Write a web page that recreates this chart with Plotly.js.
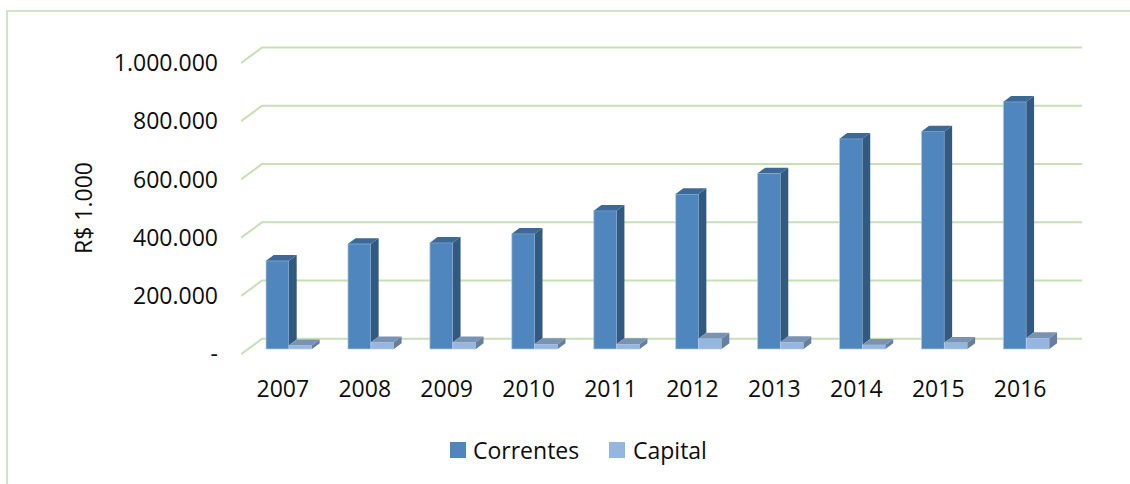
<!DOCTYPE html>
<html>
<head>
<meta charset="utf-8">
<script src="https://cdn.plot.ly/plotly-3.0.1.min.js"></script>
<style>
  html, body { margin: 0; padding: 0; background: #ffffff; }
  #chart { width: 1130px; height: 484px; }
</style>
</head>
<body>
<div id="chart"></div>
<script>
// ---- Data (R$ 1.000) ----
const years = ['2007', '2008', '2009', '2010', '2011', '2012', '2013', '2014', '2015', '2016'];
const correntes = [303000, 361000, 365000, 396000, 475000, 532000, 603000, 722000, 747000, 849000];
const capital = [13000, 23000, 23000, 17000, 17000, 36000, 24000, 15000, 22000, 38000];
const yTickVals = [0, 200000, 400000, 600000, 800000, 1000000];
const yTickText = ['-', '200.000', '400.000', '600.000', '800.000', '1.000.000'];
const seriesNames = ['Correntes', 'Capital'];

// ---- Style / geometry (pixel based, converted to axis units) ----
const W = 1130, H = 484;
const M = { l: 241, r: 48, t: 20, b: 114 };
const plotW = W - M.l - M.r;          // 841
const plotH = H - M.t - M.b;          // 350
const pxPerX = 81.93;                 // px per category
const pxPerY = 291.3 / 1e6;           // px per value unit
const xRange = [-(289 - M.l) / pxPerX, (W - M.r - 289) / pxPerX];
const yFrontZeroPx = 354.3;
const yR0 = -((M.t + plotH) - yFrontZeroPx) / pxPerY;
const yRange = [yR0, yR0 + plotH / pxPerY];

const barW = 23 / pxPerX;
const base = 5.3 / pxPerY;            // bars stand slightly behind the front edge
const ddx = 7.7 / pxPerX, ddy = 5.7 / pxPerY;     // bar depth
const gdx = 21 / pxPerX, gdy = 15.5 / pxPerY;     // floor/wall depth
const tickShift = -6.2 / pxPerX;

const colors = {
  cFront: '#4f86be', cSide: '#325a80', cTop: '#3c6995',
  kFront: '#95b6de', kSide: '#667f9e', kTop: '#7a93b3',
  grid: '#c6e0b4', border: '#c3ddb0', edge: 'rgba(185,205,230,0.9)'
};
const legendColors = [colors.cFront, colors.kFront];

const idx = years.map((_, i) => i);
const px2paperX = px => (px - M.l) / plotW;
const px2paperY = py => (M.t + plotH - py) / plotH;

// ---- Polygons for the 3D faces ----
function poly(list) {
  const xs = [], ys = [];
  list.forEach(pts => { pts.forEach(p => { xs.push(p[0]); ys.push(p[1]); }); xs.push(pts[0][0]); ys.push(pts[0][1]); xs.push(null); ys.push(null); });
  return { xs, ys };
}
const cSide = poly(idx.map(i => [[i, base + capital[i]], [i + ddx, base + capital[i] + ddy], [i + ddx, base + correntes[i] + ddy], [i, base + correntes[i]]]));
const cTop = poly(idx.map(i => [[i - barW, base + correntes[i]], [i - barW + ddx, base + correntes[i] + ddy], [i + ddx, base + correntes[i] + ddy], [i, base + correntes[i]]]));
const kSide = poly(idx.map(i => [[i + barW, base], [i + barW + ddx, base + ddy], [i + barW + ddx, base + capital[i] + ddy], [i + barW, base + capital[i]]]));
const kTop = poly(idx.map(i => [[i, base + capital[i]], [i + ddx, base + capital[i] + ddy], [i + barW + ddx, base + capital[i] + ddy], [i + barW, base + capital[i]]]));

function face(p, color) {
  return { type: 'scatter', mode: 'lines', x: p.xs, y: p.ys, fill: 'toself', fillcolor: color,
           line: { width: 0, color: color }, hoverinfo: 'skip', showlegend: false };
}

const traces = [
  { type: 'bar', name: seriesNames[0], x: idx, y: correntes, base: base, offset: -barW, width: barW,
    marker: { color: colors.cFront, line: { color: colors.edge, width: 0.8 } }, hoverinfo: 'y+name', showlegend: false },
  { type: 'bar', name: seriesNames[1], x: idx, y: capital, base: base, offset: 0, width: barW,
    marker: { color: colors.kFront, line: { color: colors.edge, width: 0.8 } }, hoverinfo: 'y+name', showlegend: false },
  face(cSide, colors.cSide),
  face(cTop, colors.cTop),
  face(kSide, colors.kSide),
  face(kTop, colors.kTop)
];

// ---- Gridlines (front diagonal + back wall) as shapes below the bars ----
const shapes = yTickVals.map(v => ({
  type: 'path', xref: 'x', yref: 'y', layer: 'below',
  path: `M ${xRange[0]},${v} L ${xRange[0] + gdx},${v + gdy} L ${xRange[1]},${v + gdy}`,
  line: { color: colors.grid, width: 2 }
}));
// chart border
shapes.push({
  type: 'rect', xref: 'paper', yref: 'paper', layer: 'below',
  x0: px2paperX(7), x1: px2paperX(W + 20),
  y0: px2paperY(11), y1: px2paperY(H + 20),
  line: { color: colors.border, width: 1.5 }, fillcolor: 'rgba(0,0,0,0)'
});

// ---- Legend (drawn as squares + labels to match the original spacing) ----
const legendSquareX = [450, 609];
const legendTextX = [473, 633];
const legendCY = 450;
const annotations = [{
  text: 'R$ 1.000', xref: 'paper', yref: 'paper', textangle: -90,
  x: px2paperX(83), y: px2paperY(208),
  xanchor: 'center', yanchor: 'middle', showarrow: false,
  font: { size: 23 }
}];
seriesNames.forEach((name, k) => {
  shapes.push({
    type: 'rect', xref: 'paper', yref: 'paper',
    x0: px2paperX(legendSquareX[k]), x1: px2paperX(legendSquareX[k] + 16),
    y0: px2paperY(legendCY - 8), y1: px2paperY(legendCY + 8),
    fillcolor: legendColors[k], line: { width: 0 }
  });
  annotations.push({
    text: name, xref: 'paper', yref: 'paper',
    x: px2paperX(legendTextX[k] - 2), y: px2paperY(legendCY),
    xanchor: 'left', yanchor: 'middle', showarrow: false,
    font: { size: 23 }
  });
});

const layout = {
  width: W, height: H,
  margin: M,
  paper_bgcolor: '#ffffff', plot_bgcolor: 'rgba(0,0,0,0)',
  font: { family: '"Open Sans", "Liberation Sans", sans-serif', size: 23, color: '#0d0d0d' },
  barmode: 'overlay',
  showlegend: false,
  xaxis: {
    range: xRange, showgrid: false, zeroline: false, showline: false,
    tickmode: 'array', tickvals: idx.map(i => i + tickShift), ticktext: years,
    ticks: '', ticklabelstandoff: 3, fixedrange: true
  },
  yaxis: {
    range: yRange, showgrid: false, zeroline: false, showline: false,
    tickmode: 'array', tickvals: yTickVals, ticktext: yTickText,
    ticks: '', ticklabelstandoff: 22, fixedrange: true
  },
  annotations: annotations,
  shapes: shapes
};

Plotly.newPlot('chart', traces, layout, { displayModeBar: false, staticPlot: true });
</script>
</body>
</html>
